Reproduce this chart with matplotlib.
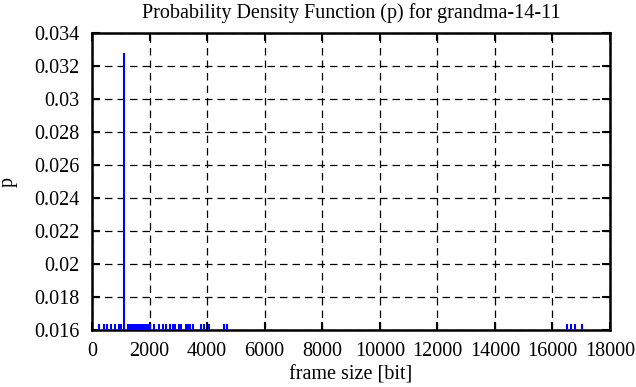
import matplotlib
matplotlib.use("Agg")
from matplotlib import pyplot as plt

# frame sizes [bit] and their probabilities (61 frames, one size seen twice)
frame_size = [236, 410, 514, 642, 792, 930, 990, 1104,
              1267, 1285, 1310, 1338, 1352, 1380, 1401, 1430, 1447, 1475,
              1499, 1516, 1545, 1562, 1590, 1608, 1637, 1655, 1683, 1701,
              1728, 1752, 1770, 1799, 1815, 1846, 1862, 1890, 1912, 1935,
              1961, 2030,
              2146, 2319, 2458, 2576, 2726, 2800, 2875, 3014, 3108, 3271,
              3340, 3420, 3514, 3802, 3882, 4056, 4576, 4694,
              16510, 16649, 16799, 17042]
p_single = 0.016393
p_double = 0.032787
p = [p_double if s == 1104 else p_single for s in frame_size]

x_ticks = [0, 2000, 4000, 6000, 8000, 10000, 12000, 14000, 16000, 18000]
y_ticks = [0.016, 0.018, 0.02, 0.022, 0.024, 0.026, 0.028, 0.03, 0.032, 0.034]
y_tick_labels = ["0.016", "0.018", "0.02", "0.022", "0.024", "0.026",
                 "0.028", "0.03", "0.032", "0.034"]

plt.rcParams['font.family'] = ['Liberation Serif', 'DejaVu Serif']
plt.rcParams['font.size'] = 14

fig = plt.figure(figsize=(6.36, 3.87), dpi=100, facecolor='white')
ax = fig.add_axes([0.1447, 0.1473, 0.9591 - 0.1447, 0.9147 - 0.1473])

ax.vlines(frame_size, 0, p, colors='#0000ff', linewidth=1.5, zorder=3)

ax.set_xlim(0, 18000)
ax.set_ylim(0.016, 0.034)
ax.set_xticks(x_ticks)
ax.set_yticks(y_ticks)
ax.set_yticklabels(y_tick_labels)

ax.grid(True, color='black', linestyle=(0, (6, 4)), linewidth=0.9)
ax.tick_params(direction='in', length=6, width=1.5, top=True, right=True,
               pad=9, labelsize=14.5)
for sp in ax.spines.values():
    sp.set_linewidth(1.8)

ax.set_xlabel('frame size [bit]', fontsize=14.5, labelpad=3)
ax.set_ylabel('p', fontsize=14.5, labelpad=12)
ax.set_title('Probability Density Function (p) for grandma-14-11',
             fontsize=14.5, pad=11)

fig.savefig('out.png', dpi=100)
